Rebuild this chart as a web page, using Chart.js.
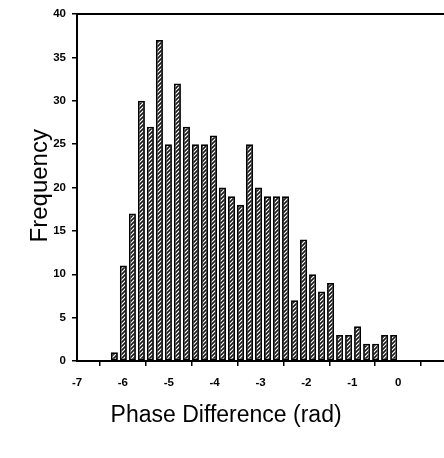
<!DOCTYPE html>
<html>
<head>
<meta charset="utf-8">
<script src="https://cdn.jsdelivr.net/npm/chart.js@4/dist/chart.umd.min.js"></script>
<style>
  html, body { margin: 0; padding: 0; background: #fff; }
  #wrap { width: 444px; height: 458px; }
</style>
</head>
<body>
<div id="wrap"><canvas id="hist"></canvas></div>
<script>
// bin centres (32 bins over -2pi..0) and counts
const binCenters = [
  -6.185, -5.989, -5.792, -5.596, -5.400, -5.203, -5.007, -4.811,
  -4.614, -4.418, -4.221, -4.025, -3.829, -3.632, -3.436, -3.240,
  -3.043, -2.847, -2.651, -2.454, -2.258, -2.062, -1.865, -1.669,
  -1.473, -1.276, -1.080, -0.884, -0.687, -0.491, -0.295, -0.098
];
const counts = [
  1, 11, 17, 30, 27, 37, 25, 32,
  27, 25, 25, 26, 20, 19, 18, 25,
  20, 19, 19, 19, 7, 14, 10, 8,
  9, 3, 3, 4, 2, 2, 3, 3
];
const xTicks = [-7, -6, -5, -4, -3, -2, -1, 0];
const yTicks = [0, 5, 10, 15, 20, 25, 30, 35, 40];
const xTitle = 'Phase Difference (rad)';
const yTitle = 'Frequency';

function hatchPattern() {
  const c = document.createElement('canvas');
  c.width = 4; c.height = 4;
  const g = c.getContext('2d');
  g.fillStyle = '#ffffff';
  g.fillRect(0, 0, 4, 4);
  g.strokeStyle = '#1a1a1a';
  g.lineWidth = 1.6;
  g.beginPath();
  g.moveTo(-1, 5); g.lineTo(5, -1);
  g.moveTo(-1, 1); g.lineTo(1, -1);
  g.moveTo(3, 5); g.lineTo(5, 3);
  g.stroke();
  return g.createPattern(c, 'repeat');
}

const fontFamily = 'Liberation Sans, Arial, sans-serif';
const tickFont = { family: fontFamily, size: 11.5, weight: 'bold' };

// axis titles are not centred on the axes in the original, so draw them by hand
const axisTitles = {
  id: 'axisTitles',
  afterDraw(chart) {
    const c = chart.ctx;
    const xs = chart.scales.x, ys = chart.scales.y;
    c.save();
    c.fillStyle = '#000';
    c.textAlign = 'center';
    c.textBaseline = 'middle';
    c.font = '23px ' + fontFamily;
    c.fillText(xTitle, xs.getPixelForValue(-3.75), 416);
    c.translate(40, ys.getPixelForValue(20.2));
    c.rotate(-Math.PI / 2);
    c.font = '24px ' + fontFamily;
    c.fillText(yTitle, 0, 0);
    c.restore();
  }
};

const ctx = document.getElementById('hist').getContext('2d');
new Chart(ctx, {
  type: 'bar',
  data: {
    datasets: [{
      data: binCenters.map((x, i) => ({ x: x, y: counts[i] })),
      backgroundColor: hatchPattern(),
      borderColor: '#000',
      borderWidth: 1.8,
      borderSkipped: false,
      barPercentage: 0.78,
      categoryPercentage: 1.0
    }]
  },
  options: {
    responsive: true,
    maintainAspectRatio: false,
    animation: false,
    layout: { padding: 0 },
    plugins: { legend: { display: false }, tooltip: { enabled: false } },
    scales: {
      x: {
        type: 'linear',
        position: 'bottom',
        min: -7,
        max: 1,
        offset: false,
        afterBuildTicks: (s) => { s.ticks = xTicks.map(v => ({ value: v })); },
        afterFit: (s) => { s.height = 97; },
        ticks: { font: tickFont, color: '#000', padding: 10, maxRotation: 0 },
        grid: { drawOnChartArea: false, drawTicks: true, tickLength: 5, color: '#000', lineWidth: 1.5 },
        border: { display: true, color: '#000', width: 2 }
      },
      xTop: {
        type: 'linear',
        position: 'top',
        min: -7,
        max: 1,
        afterFit: (s) => { s.height = 14; },
        ticks: { display: false },
        grid: { display: false },
        border: { display: true, color: '#000', width: 2 }
      },
      y: {
        min: 0,
        max: 40,
        afterBuildTicks: (s) => { s.ticks = yTicks.map(v => ({ value: v })); },
        afterFit: (s) => { s.width = 77; },
        ticks: { font: tickFont, color: '#000', padding: 6 },
        grid: { drawOnChartArea: false, drawTicks: true, tickLength: 5, color: '#000', lineWidth: 1.5 },
        border: { display: true, color: '#000', width: 2 }
      }
    }
  },
  plugins: [axisTitles]
});
</script>
</body>
</html>
